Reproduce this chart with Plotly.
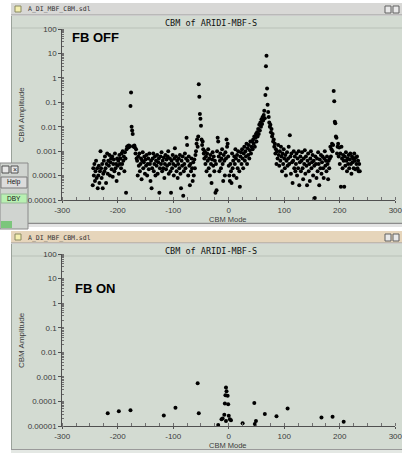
import plotly.graph_objects as go

# ---------------- data ----------------
# FB OFF: amplitude for every coupled-bunch mode, starting at mode -245
off_start = -245
off_amp = [
    4e-5, 2e-4, 1e-4, 3e-4, 6e-5, 1.5e-4, 4e-4, 8e-5, 2e-4, 3e-5,          # -245..-236
    1e-4, 2.5e-4, 5e-5, 1.5e-4, 1e-3, 2e-4, 8e-5, 3e-4, 3e-5, 1.2e-4,      # -235..-226
    4e-4, 1.5e-4, 6e-4, 2e-4, 5e-5, 3e-4, 8e-4, 1.2e-4, 4e-4, 2.5e-4,      # -225..-216
    7e-4, 1e-4, 3.5e-4, 5e-4, 1.8e-4, 6e-4, 9e-5, 3e-4, 4.5e-4, 1.5e-4,    # -215..-206
    8e-4, 2e-4, 3e-4, 6e-5, 5e-4, 2.5e-4, 4e-4, 1.2e-4, 7e-4, 3e-4,        # -205..-196
    5e-4, 2e-4, 8e-4, 3e-4, 1e-3, 4e-4, 6e-4, 1.5e-4, 9e-4, 5e-4,          # -195..-186
    2e-5, 1.2e-3, 1.5e-3, 1.6e-3, 1.4e-3, 1.7e-3, 1.5e-3, 1.6e-3, 0.07, 0.25,  # -185..-176
    1e-2, 7e-3, 5e-3, 1.6e-3, 1.5e-3, 1.7e-3, 1.4e-3, 8e-4, 1.2e-3, 5e-4,  # -175..-166
    4e-4, 1e-4, 6e-4, 2.5e-4, 8e-4, 1.5e-4, 3e-4, 5e-4, 7e-5, 4e-4,        # -165..-156
    9e-4, 2e-4, 3.5e-4, 6e-4, 1.2e-4, 4.5e-4, 2.5e-4, 7e-4, 1e-4, 3e-4,    # -155..-146
    5e-4, 1.8e-4, 8e-4, 3e-4, 6e-5, 4e-4, 3e-5, 2e-4, 5e-4, 8e-4,          # -145..-136
    1.5e-4, 3e-4, 6e-4, 1e-4, 4e-4, 2.5e-4, 7e-4, 1.2e-4, 3.5e-4, 5e-4,    # -135..-126
    2e-5, 2e-4, 6e-4, 3e-4, 9e-4, 1.5e-4, 4e-4, 2e-4, 5.5e-4, 8e-5,        # -125..-116
    3e-4, 7e-4, 1.8e-4, 4.5e-4, 2.5e-4, 6e-4, 1e-3, 1.2e-4, 3e-4, 5e-4,    # -115..-106
    1.5e-4, 2e-5, 4e-4, 2e-4, 7e-4, 3e-4, 1e-4, 5e-4, 1.3e-3, 2.5e-4,      # -105..-96
    6e-4, 1.5e-4, 4e-4, 8e-5, 3e-4, 5e-4, 2e-4, 7e-4, 1.2e-4, 3e-5,        # -95..-86
    4e-4, 2.5e-4, 6e-4, 1.5e-5, 1.5e-4, 3e-4, 8e-4, 2e-4, 5e-4, 3.5e-3,    # -85..-76
    1.8e-3, 4e-4, 1e-4, 6e-4, 2.5e-4, 4e-5, 3e-4, 1.5e-4, 5e-4, 2e-4,      # -75..-66
    6e-5, 3.5e-4, 1e-4, 4.5e-4, 2e-4, 7e-4, 1e-3, 2e-3, 3e-3, 1.5e-3,      # -65..-56
    4e-3, 0.55, 0.17, 0.033, 0.021, 0.011, 3e-3, 1.8e-3, 2.5e-3, 1.2e-3,   # -55..-46
    8e-4, 5e-4, 1e-3, 3e-4, 6e-4, 1.5e-4, 8e-4, 4e-4, 1.2e-3, 2e-4,        # -45..-36
    5e-4, 1e-4, 7e-4, 3e-4, 5e-5, 4.5e-4, 9e-4, 2.5e-4, 6e-4, 1.5e-4,      # -35..-26
    4e-4, 2e-5, 3e-4, 2.5e-5, 1e-3, 3.5e-3, 2.5e-3, 6e-4, 1.5e-4, 4e-4,    # -25..-16
    8e-4, 2e-4, 5e-4, 1.2e-3, 3e-4, 6e-5, 7e-4, 4e-4, 1e-4, 9e-4,          # -15..-6
    5e-4, 3e-3, 1.5e-3, 2e-3, 6e-4, 2.5e-4, 1e-4, 6e-5, 3e-4, 1.5e-4,      # -5..4
    5e-5, 8e-4, 2e-4, 4e-4, 1e-4, 6e-4, 3e-4, 1.2e-3, 5e-4, 8e-5,          # 5..14
    7e-4, 2e-4, 1e-3, 4e-4, 1.5e-4, 3.5e-5, 6e-4, 9e-4, 3e-4, 1.2e-3,      # 15..24
    5e-4, 2e-4, 8e-4, 1.5e-3, 4e-4, 1e-3, 6e-4, 2e-3, 3e-4, 1.3e-3,        # 25..34
    7e-4, 1.8e-3, 5e-4, 1.1e-3, 2.5e-3, 8e-4, 1.5e-3, 2.5e-3, 1.2e-3, 3e-3,  # 35..44
    2e-3, 4e-3, 1.5e-3, 3.5e-3, 5e-3, 2.5e-3, 6e-3, 4e-3, 8e-3, 5e-3,      # 45..54
    1.2e-2, 7e-3, 1.5e-2, 1e-2, 2e-2, 1.3e-2, 2.5e-2, 1.8e-2, 3e-2, 4.5e-2,  # 55..64
    2.2e-2, 0.2, 3, 8, 0.37, 0.08, 0.04, 2.5e-2, 1.5e-2, 1e-2,             # 65..74
    1.2e-2, 6e-3, 8e-3, 4e-3, 5e-3, 2.5e-3, 3e-3, 1.5e-3, 2e-3, 8e-4,      # 75..84
    1.2e-3, 3e-4, 1e-3, 5e-4, 1.8e-3, 7e-4, 2.5e-4, 1e-3, 4e-4, 1.5e-3,    # 85..94
    6e-4, 1.5e-4, 8e-4, 3e-4, 1.2e-3, 5e-4, 2e-4, 7e-4, 1e-4, 4e-4,        # 95..104
    9e-4, 2.5e-4, 5e-4, 1.5e-3, 3e-4, 4.5e-3, 6e-4, 1.2e-4, 8e-4, 3.5e-4,  # 105..114
    5e-5, 4e-4, 1e-3, 2e-4, 6e-4, 1.5e-4, 3e-4, 8e-4, 1e-4, 5e-4,          # 115..124
    2e-4, 1e-3, 4e-5, 3.5e-4, 6e-4, 1.5e-4, 4e-4, 9e-4, 2e-4, 7e-5,        # 125..134
    5e-4, 3e-4, 1.1e-3, 1.2e-4, 6e-4, 2.5e-4, 4e-5, 4e-4, 8e-4, 1.5e-4,    # 135..144
    3e-4, 6e-5, 5e-4, 1e-3, 2e-4, 3.5e-4, 7e-4, 1e-4, 4e-4, 2.5e-4,        # 145..154
    1.2e-5, 6e-4, 3e-4, 8e-5, 5e-4, 1.5e-4, 9e-4, 3e-4, 4e-5, 4.5e-4,      # 155..164
    2e-4, 7e-4, 1.2e-4, 3.5e-4, 6e-4, 2e-4, 8e-5, 5e-4, 1e-3, 2.5e-4,      # 165..174
    4e-4, 1.5e-4, 6e-4, 3e-4, 7e-5, 4e-4, 2e-4, 5e-4, 1.5e-3, 6e-4,        # 175..184
    1.2e-3, 2e-3, 1e-3, 1.8e-3, 0.29, 0.11, 0.016, 0.014, 4e-3, 3.5e-3,    # 185..194
    8e-4, 1.5e-3, 2e-3, 6e-4, 1.4e-3, 3e-4, 8e-4, 3.5e-5, 1.5e-3, 5e-4,    # 195..204
    2e-4, 7e-4, 4e-4, 3.5e-5, 6e-4, 2.5e-4, 9e-4, 4e-4, 1.5e-4, 5e-4,      # 205..214
    3e-4, 7e-4, 2e-4, 4.5e-4, 8e-4, 3e-4, 1.2e-4, 6e-4, 3.5e-4, 5e-4,      # 215..224
    2e-4, 8e-4, 4e-4, 1.8e-4, 5.5e-4, 3e-4, 6e-4, 2e-4, 4e-4, 1.5e-4,      # 225..234
    3e-4, 1.5e-4,                                                           # 235..236
]
off_modes = list(range(off_start, off_start + len(off_amp)))

# FB ON: only the modes that still show up above the floor
on_modes = [-218, -198, -177, -117, -96, -56, -54, -19, -13, -11, -8, -7, -5, -4, -6,
            -2, -1, -5, 0, 2, 4, 25, 46, 47, 49, 65, 86, 106, 167, 187, 207]
on_amp = [3.3e-5, 4e-5, 4.4e-5, 2.7e-5, 5.5e-5, 5.5e-4, 3.3e-5, 1.1e-5, 1.9e-5, 2e-5,
          2.9e-5, 8.3e-5, 3.7e-4, 2.6e-4, 1.8e-4, 1.7e-4, 7.6e-5, 1.6e-5, 2.6e-5, 1.9e-5,
          1.7e-5, 1.3e-5, 8.7e-5, 1.2e-5, 1.6e-5, 3.1e-5, 2.5e-5, 5.2e-5, 2.2e-5, 2.4e-5, 1.5e-5]

x_tickvals = [-300, -200, -100, 0, 100, 200, 300]
x_ticktext = ["-300", "-200", "-100", "0", "100", "200", "300"]
y_tickvals = [1e-5, 1e-4, 1e-3, 1e-2, 1e-1, 1, 10, 100]
y_ticktext = ["0.00001", "0.0001", "0.001", "0.01", "0.1", "1", "10", "100"]

window_name = "A_DI_MBF_CBM.sdl"
plot_title = "CBM of ARIDI-MBF-S"
panel_labels = ["FB OFF", "FB ON"]
x_title = "CBM Mode"
y_title = "CBM Amplitude"

# ---------------- layout helpers ----------------
W, H = 402, 453
def PX(x):
    return x / W
def PY(y):
    return 1 - y / H

BODY = "#d3dbd2"
TICKC = "#3c3c3c"
shapes = []
annotations = []

def rect(x0, y0, x1, y1, fill, line=None, lw=1):
    shapes.append(dict(type="rect", xref="paper", yref="paper",
                       x0=PX(x0), x1=PX(x1), y0=PY(y1), y1=PY(y0),
                       fillcolor=fill, layer="below",
                       line=dict(color=line or fill, width=lw if line else 0)))

def hline(x0, x1, y, color, lw=1):
    shapes.append(dict(type="line", xref="paper", yref="paper",
                       x0=PX(x0), x1=PX(x1), y0=PY(y), y1=PY(y),
                       line=dict(color=color, width=lw), layer="below"))

def text(x, y, s, size, color="#000", family="Liberation Sans, Arial", xanchor="center", angle=0):
    annotations.append(dict(x=PX(x), y=PY(y), xref="paper", yref="paper", text=s,
                            showarrow=False, xanchor=xanchor, yanchor="middle",
                            textangle=angle, font=dict(size=size, color=color, family=family)))

def window(top, bar_color, bottom):
    # title bar
    rect(11, top, 402, top + 12, bar_color)
    hline(11, 402, top + 12, "#9a9a9a")
    # icon + name
    rect(15, top + 3, 21, top + 9, "#f4efb0", "#8a8a60")
    text(26, top + 6.5, window_name, 6.5, "#333", "DejaVu Sans Mono", "left")
    # window buttons
    rect(385, top + 3, 391, top + 10, "#e8e8e8", "#606060")
    rect(393, top + 3, 399, top + 10, "#e8e8e8", "#606060")
    # body
    rect(11, top + 13, 402, bottom, BODY)
    shapes.append(dict(type="line", xref="paper", yref="paper",
                       x0=PX(11.5), x1=PX(11.5), y0=PY(bottom), y1=PY(top + 13),
                       line=dict(color="#9aa29a", width=1), layer="below"))
    hline(12, 402, top + 25, "#b9c1b8")
    text(211, top + 20, plot_title, 8.5, "#111", "DejaVu Sans Mono")

# top window
window(3, "#d8d8d6", 223)
hline(11, 402, 223.5, "#8c8c8c", 1.5)
hline(11, 402, 226, "#c8c8c8", 1)
# bottom window
window(231, "#e6d5bb", 449)
hline(11, 402, 449.5, "#9a9a9a", 1)
rect(11, 450, 402, 453, "#e4e8e4")

# small overlapping tool window on the left of top panel
rect(0, 163, 28, 229, "#d0d4d0", "#8a8a8a")
rect(2, 166, 9, 173, "#e6e6e6", "#505050")
rect(11, 166, 18, 173, "#e6e6e6", "#505050")
text(14.5, 169.5, "×", 7, "#222")
rect(1, 177, 27, 188, "#dcdcdc", "#7a7a7a")
text(14, 182.5, "Help", 6.5, "#111", "Liberation Sans, Arial")
rect(1, 194, 27, 203, "#b8f0b2", "#9ab89a")
text(14, 198.5, "DBY", 6.5, "#111", "Liberation Sans, Arial")
rect(1, 221, 12, 228, "#7cc67c")

# panel labels / axis titles
panel_y = [(29, 200), (254, 426)]
text(70, 38, "<b>" + panel_labels[0] + "</b>", 13, "#000", "Liberation Sans, Arial", "left")
text(73, 288, "<b>" + panel_labels[1] + "</b>", 13, "#000", "Liberation Sans, Arial", "left")
for (yt, yb) in panel_y:
    text(228, yb + 19.5, x_title, 7.5, TICKC)
    text(21, (yt + yb) / 2, y_title, 8, TICKC, angle=-90)

# ---------------- figure ----------------
fig = go.Figure()
fig.add_trace(go.Scatter(x=off_modes, y=off_amp, mode="markers", xaxis="x", yaxis="y",
                         marker=dict(size=4, color="#000", symbol="circle"),
                         showlegend=False, cliponaxis=False))
fig.add_trace(go.Scatter(x=on_modes, y=on_amp, mode="markers", xaxis="x2", yaxis="y2",
                         marker=dict(size=4, color="#000", symbol="circle"),
                         showlegend=False, cliponaxis=False))

xdom = [PX(62.2), PX(395.3)]
def xaxis(anchor):
    return dict(domain=xdom, range=[-300, 300], anchor=anchor, automargin=False,
                tickmode="array", tickvals=x_tickvals, ticktext=x_ticktext,
                ticks="outside", ticklen=2, tickcolor="#505050",
                ticklabeloverflow="allow",
                showline=True, linecolor="#505050", linewidth=1,
                showgrid=False, zeroline=False,
                tickfont=dict(size=8, color=TICKC, family="Liberation Sans, Arial"),
                minor=dict(dtick=25, tick0=0, ticks="inside", ticklen=3, tickcolor="#707070", showgrid=False))

def yaxis(anchor, y0, y1):
    return dict(domain=[PY(y1), PY(y0)], type="log", range=[-5, 2], anchor=anchor, automargin=False,
                tickmode="array", tickvals=y_tickvals, ticktext=y_ticktext,
                ticks="outside", ticklen=3, tickcolor="#505050",
                showline=True, linecolor="#505050", linewidth=1,
                showgrid=False, zeroline=False,
                tickfont=dict(size=8, color=TICKC, family="Liberation Sans, Arial"),
                minor=dict(dtick="D1", ticks="inside", ticklen=2, tickcolor="#707070", showgrid=False))

fig.update_layout(
    width=W, height=H,
    margin=dict(l=0, r=0, t=0, b=0, autoexpand=False),
    paper_bgcolor="#ffffff",
    plot_bgcolor="rgba(0,0,0,0)",
    xaxis=xaxis("y"),
    yaxis=yaxis("x", *panel_y[0]),
    xaxis2=xaxis("y2"),
    yaxis2=yaxis("x2", *panel_y[1]),
    shapes=shapes,
    annotations=annotations,
    showlegend=False,
)

fig.write_html("out.html", config={"displayModeBar": False},
               post_script="document.body.style.margin='0';document.body.style.padding='0';")
